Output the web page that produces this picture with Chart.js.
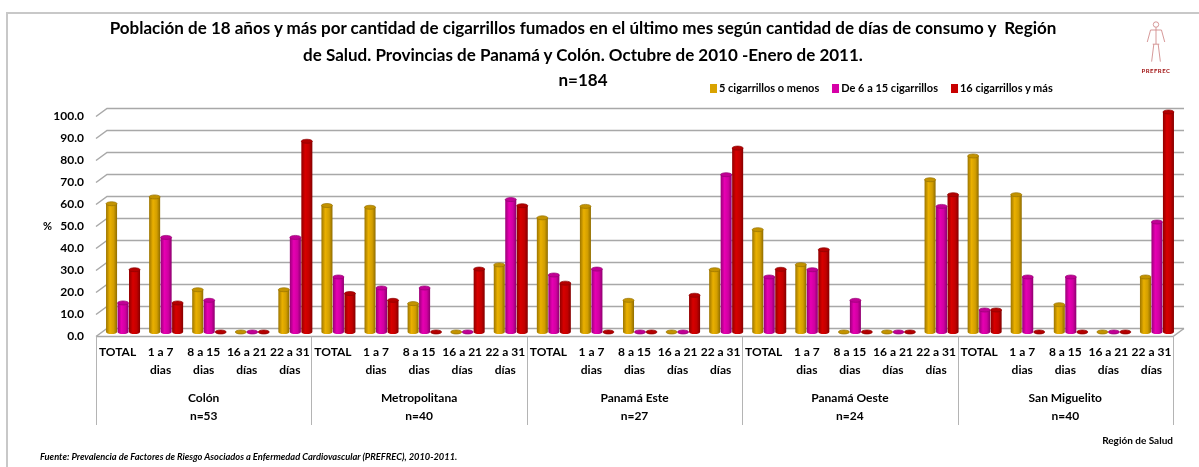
<!DOCTYPE html>
<html>
<head>
<meta charset="utf-8">
<script src="https://cdn.jsdelivr.net/npm/chart.js@4.4.1/dist/chart.umd.min.js"></script>
<style>
  html, body { margin: 0; padding: 0; background: #fff; }
  #wrap { position: relative; width: 1199px; height: 467px; overflow: hidden;
          font-family: Lato, "Liberation Sans Narrow", sans-serif; }
  #chart { position: absolute; left: 0; top: 0; }
  .frame { position: absolute; left: 6px; top: 12px; width: 1200px; height: 470px;
           border-top: 2px solid #c8c8c8; border-left: 2px solid #c8c8c8; }
  .title { position: absolute; left: 0; width: 1166px; text-align: center; font-weight: bold;
           font-size: 17px; line-height: 27px; color: #000; white-space: pre; }
  .legend { position: absolute; top: 81px; left: 710px; font-size: 11px; font-weight: bold; white-space: nowrap; }
  .legend span.item { display: inline-block; margin-right: 13px; }
  .legend i { display: inline-block; width: 7px; height: 9px; margin-right: 2px; vertical-align: -1px; }
  .pct { position: absolute; left: 43px; top: 219px; font-size: 11px; font-weight: bold; }
  .xtitle { position: absolute; right: 26px; top: 434px; font-size: 10px; font-weight: bold; }
  .source { position: absolute; left: 40px; top: 451px; font-size: 9.3px; font-weight: bold; font-style: italic; }
  .logo { position: absolute; left: 1136px; top: 20px; width: 40px; text-align: center; }
  .logo b { display: block; font-size: 6px; color: #a01010; letter-spacing: 0.5px; }
</style>
</head>
<body>
<div id="wrap">
  <div class="frame"></div>
  <canvas id="chart" width="1199" height="467"></canvas>
  <div class="title" style="top:14px">Población de 18 años y más por cantidad de cigarrillos fumados en el último mes según cantidad de días de consumo y  Región
de Salud. Provincias de Panamá y Colón. Octubre de 2010 -Enero de 2011.</div>
  <div class="title" style="top:66px">n=184</div>
  <div class="legend" id="legend"></div>
  <div class="pct">%</div>
  <div class="xtitle">Región de Salud</div>
  <div class="source">Fuente: Prevalencia de Factores de Riesgo Asociados a Enfermedad Cardiovascular (PREFREC), 2010-2011.</div>
  <div class="logo">
    <svg width="24" height="44" viewBox="0 0 22 40">
      <g fill="none" stroke="#d08a8a" stroke-width="0.8">
        <circle cx="11" cy="4" r="2.5"/>
        <path d="M11 6.5 L11 22 M6 9 L16 9 M6 9 L3 20 M16 9 L19 20 M8 22 L14 22 M9 22 L7 38 M13 22 L15 38"/>
      </g>
    </svg>
    <b>PREFREC</b>
  </div>
</div>
<script>
// regiones y grupos de días
const regions = ['Colón', 'Metropolitana', 'Panamá Este', 'Panamá Oeste', 'San Miguelito'];
const regionCounts = ['n=53', 'n=40', 'n=27', 'n=24', 'n=40'];
const dayGroups = [['TOTAL'], ['1 a 7', 'dias'], ['8 a 15', 'dias'], ['16 a 21', 'días'], ['22 a 31', 'días']];

const seriesNames = ['5 cigarrillos o menos', 'De 6 a 15 cigarrillos', '16 cigarrillos y más'];
const seriesColors = ['#D9A300', '#D600A6', '#C80000'];

// % por categoría (5 regiones x 5 grupos de días)
const cincoOMenos   = [58.3, 61.4, 19.2, 0, 19.2,  57.5, 56.7, 12.9, 0, 30.5,  51.9, 57.1, 14.4, 0, 28.3,  46.5, 30.6, 0, 0, 69.2,  80.0, 62.4, 12.4, 0, 25.0];
const seisA15       = [13.2, 43.0, 14.4, 0, 43.0,  25.0, 20.0, 20.0, 0, 60.2,  25.9, 28.6, 0, 0, 71.5,  25.0, 28.3, 14.4, 0, 57.1,  10.0, 25.0, 25.0, 0, 50.0];
const dieciseisOMas = [28.3, 13.2, 0, 0, 86.7,  17.5, 14.4, 0, 28.6, 57.4,  22.2, 0, 0, 16.7, 83.6,  28.5, 37.4, 0, 0, 62.4,  10.0, 0, 0, 0, 100.0];

const yMin = 0, yMax = 100, yStep = 10;

const FONT = 'Lato, "Liberation Sans Narrow", sans-serif';
const DX = 11, DY = 8; // profundidad del efecto 3D

const categoryLabels = [];
regions.forEach(() => dayGroups.forEach(d => categoryLabels.push(d)));
const regionLabels = regions.map((r, i) => [r, regionCounts[i]]);
const seriesValues = [cincoOMenos, seisA15, dieciseisOMas];

// leyenda
document.getElementById('legend').innerHTML = seriesNames.map((n, i) =>
    `<span class="item"><i style="background:${seriesColors[i]}"></i>${n}</span>`).join('');

function shade(hex, f) {
    const n = parseInt(hex.slice(1), 16);
    const c = [(n >> 16) & 255, (n >> 8) & 255, n & 255].map(v => Math.max(0, Math.min(255, Math.round(v * f))));
    return `rgb(${c[0]},${c[1]},${c[2]})`;
}

const walls3d = {
    id: 'walls3d',
    beforeDatasetsDraw(chart) {
        const { ctx, chartArea: a, scales } = chart;
        const y = scales.y, x = scales.x, x2 = scales.x2;
        ctx.save();
        ctx.strokeStyle = '#a8a8a8';
        ctx.lineWidth = 1.5;
        for (let v = yMin; v <= yMax; v += yStep) {
            const py = Math.round(y.getPixelForValue(v)) + 0.5;
            ctx.beginPath();
            ctx.moveTo(a.left, py);
            ctx.lineTo(a.left + DX, py - DY);
            ctx.lineTo(a.right + DX, py - DY);
            ctx.stroke();
        }
        const fy = Math.round(a.bottom) + 0.5;
        ctx.beginPath();
        ctx.moveTo(a.left, fy);
        ctx.lineTo(a.right, fy);
        ctx.lineTo(a.right + DX, fy - DY);
        ctx.stroke();

        // separadores de región
        ctx.strokeStyle = '#b4b4b4';
        ctx.lineWidth = 1;
        const bottom = x2.bottom - 2;
        const xs = [a.left, a.right];
        for (let r = 1; r < regions.length; r++) {
            const i = r * dayGroups.length;
            xs.push((x.getPixelForValue(i - 1) + x.getPixelForValue(i)) / 2);
        }
        xs.forEach(px => {
            px = Math.round(px) + 0.5;
            ctx.beginPath();
            ctx.moveTo(px, fy);
            ctx.lineTo(px, bottom);
            ctx.stroke();
        });
        ctx.restore();
    },
    beforeDatasetDraw() {
        return false;
    },
    afterDatasetsDraw(chart) {
        const ctx = chart.ctx;
        const metas = seriesValues.map((_, i) => chart.getDatasetMeta(i));
        ctx.save();
        for (let j = 0; j < categoryLabels.length; j++) {
            metas.forEach((meta, i) => {
                const bar = meta.data[j];
                const p = bar.getProps(['x', 'y', 'base', 'width'], true);
                const col = seriesColors[i];
                const rx = p.width * 0.48, ry = 2;
                const cx = p.x + DX / 2;
                const top = p.y - DY / 2, bot = p.base - DY / 2;
                if (bot - top > 0.5) {
                    const g = ctx.createLinearGradient(cx - rx, 0, cx + rx, 0);
                    g.addColorStop(0, shade(col, 0.72));
                    g.addColorStop(0.35, shade(col, 1.08));
                    g.addColorStop(0.7, shade(col, 0.97));
                    g.addColorStop(1, shade(col, 0.66));
                    ctx.beginPath();
                    ctx.moveTo(cx - rx, top);
                    ctx.lineTo(cx - rx, bot);
                    ctx.ellipse(cx, bot, rx, ry, 0, Math.PI, 0, true);
                    ctx.lineTo(cx + rx, top);
                    ctx.closePath();
                    ctx.fillStyle = g;
                    ctx.fill();
                }
                ctx.beginPath();
                ctx.ellipse(cx, top, rx, ry, 0, 0, Math.PI * 2);
                ctx.fillStyle = shade(col, 0.9);
                ctx.fill();
                ctx.strokeStyle = shade(col, 0.7);
                ctx.lineWidth = 0.7;
                ctx.stroke();
            });
        }
        ctx.restore();
    }
};

new Chart(document.getElementById('chart'), {
    type: 'bar',
    data: {
        labels: categoryLabels,
        datasets: seriesNames.map((name, i) => ({
            label: name,
            data: seriesValues[i],
            backgroundColor: seriesColors[i],
            xAxisID: 'x',
            categoryPercentage: 0.8,
            barPercentage: 1.0
        }))
    },
    options: {
        responsive: false,
        animation: false,
        events: [],
        layout: { padding: { top: 116, left: 36, right: 26, bottom: 40 } },
        plugins: {
            legend: { display: false },
            title: { display: false },
            tooltip: { enabled: false }
        },
        scales: {
            y: {
                min: yMin,
                max: yMax,
                ticks: {
                    stepSize: yStep,
                    padding: 12,
                    color: '#000',
                    font: { family: FONT, size: 12, weight: 'bold' },
                    callback: v => v.toFixed(1)
                },
                grid: { display: false, drawTicks: false },
                border: { display: false },
                afterFit: s => { s.width = 60; }
            },
            x: {
                type: 'category',
                weight: 0,
                ticks: {
                    padding: 7,
                    color: '#000',
                    maxRotation: 0,
                    autoSkip: false,
                    font: { family: FONT, size: 12, weight: 'bold', lineHeight: 1.5 }
                },
                grid: { display: false, drawTicks: false },
                border: { display: false },
                afterFit: s => { s.height = 44; }
            },
            x2: {
                type: 'category',
                position: 'bottom',
                weight: 1,
                offset: true,
                labels: regionLabels,
                ticks: {
                    padding: 9,
                    color: '#000',
                    maxRotation: 0,
                    autoSkip: false,
                    font: { family: FONT, size: 12, weight: 'bold', lineHeight: 1.5 }
                },
                grid: { display: false, drawTicks: false },
                border: { display: false },
                afterFit: s => { s.height = 47; }
            }
        }
    },
    plugins: [walls3d]
});
</script>
</body>
</html>
